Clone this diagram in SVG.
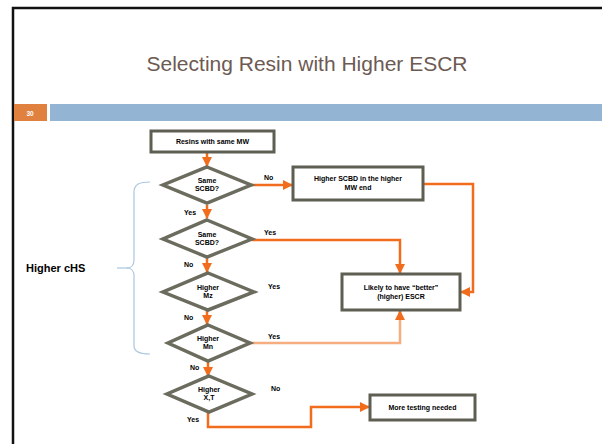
<svg xmlns="http://www.w3.org/2000/svg" width="602" height="444" viewBox="0 0 602 444">
<style>
.box{fill:#fff;stroke:#5e5e52;stroke-width:3}
.dia{fill:#fff;stroke:#6b6b5e;stroke-width:3.5}
.t{font-family:"Liberation Sans",Arial,sans-serif;font-weight:bold;font-size:7px;fill:#000;text-anchor:middle}
.lbl{font-family:"Liberation Sans",Arial,sans-serif;font-weight:bold;font-size:7px;fill:#000}
.c{fill:none;stroke:#f26c1e;stroke-width:2.5}
.cl{fill:none;stroke:#f6ad80;stroke-width:2.5}
</style>
<defs>
<marker id="ah" viewBox="0 0 10 10" refX="9" refY="5" markerWidth="4" markerHeight="4" orient="auto" markerUnits="strokeWidth">
<path d="M0,0 L10,5 L0,10 z" fill="#f26c1e"/>
</marker>
</defs>
<rect x="0" y="0" width="602" height="444" fill="#fff"/>
<path d="M13,444 L13,8 L604,8" fill="none" stroke="#111" stroke-width="2.5"/>
<text x="307" y="71" font-family="'Liberation Sans',Arial,sans-serif" font-size="21" fill="#6d5a52" text-anchor="middle">Selecting Resin with Higher ESCR</text>
<rect x="14" y="104" width="33" height="17" fill="#e0813f"/>
<text x="30" y="115.5" font-family="'Liberation Sans',Arial,sans-serif" font-size="6.5" font-weight="bold" fill="#fff" text-anchor="middle">30</text>
<rect x="50" y="104" width="552" height="17" fill="#93b4d2"/>

<g id="brace">
<path d="M150,182 C140,182 134,184 134,192 L134,260 C134,265 131,268 127,268 C131,268 134,271 134,276 L134,346 C134,352 140,354 150,354" fill="none" stroke="#a9c5df" stroke-width="1.2"/>
<path d="M117,268 L128,268" fill="none" stroke="#a9c5df" stroke-width="1.2"/>
<text x="26" y="272" font-family="'Liberation Sans',Arial,sans-serif" font-size="11" font-weight="bold" fill="#000">Higher cHS</text>
</g>

<g id="connectors">
<path class="c" d="M207,153 L207,166" marker-end="url(#ah)"/>
<path class="c" d="M251,185 L292,185" marker-end="url(#ah)"/>
<path class="c" d="M207,205 L207,218" marker-end="url(#ah)"/>
<path class="c" d="M207,258 L207,272" marker-end="url(#ah)"/>
<path class="c" d="M207,311 L207,324" marker-end="url(#ah)"/>
<path class="c" d="M208,362 L208,376" marker-end="url(#ah)"/>
<path class="c" d="M423,184 L473,184 L473,292 L461,292" marker-end="url(#ah)"/>
<path class="c" d="M252,240 L400,240 L400,273" marker-end="url(#ah)"/>
<path class="cl" d="M250,343 L400,343 L400,311"/>
<path class="c" d="M400,320 L400,311" marker-end="url(#ah)"/>
<path class="c" d="M208,413 L208,427 L311,427 L311,407 L369,407" marker-end="url(#ah)"/>
<text class="lbl" x="264" y="180">No</text>
<text class="lbl" x="184" y="215">Yes</text>
<text class="lbl" x="264" y="235">Yes</text>
<text class="lbl" x="184" y="267">No</text>
<text class="lbl" x="268" y="289">Yes</text>
<text class="lbl" x="184" y="320">No</text>
<text class="lbl" x="268" y="339">Yes</text>
<text class="lbl" x="190" y="370">No</text>
<text class="lbl" x="271" y="391">No</text>
<text class="lbl" x="187" y="422">Yes</text>
</g>

<g id="start">
<rect class="box" x="151" y="131" width="123" height="21"/>
<text class="t" x="212.5" y="144">Resins with same MW</text>
</g>
<g id="d1">
<polygon class="dia" points="207,167 251,185 207,203 163,185"/>
<text class="t" x="207" y="183">Same</text>
<text class="t" x="207" y="191">SCBD?</text>
</g>
<g id="higherscbd">
<rect class="box" x="293" y="167" width="130" height="33"/>
<text class="t" x="358" y="181">Higher SCBD in the higher</text>
<text class="t" x="358" y="190">MW end</text>
</g>
<g id="d2">
<polygon class="dia" points="207,220 252,239 207,257 163,239"/>
<text class="t" x="207" y="237">Same</text>
<text class="t" x="207" y="245">SCBD?</text>
</g>
<g id="d3">
<polygon class="dia" points="208,273 254,292 208,310 163,292"/>
<text class="t" x="208" y="290">Higher</text>
<text class="t" x="208" y="298">Mz</text>
</g>
<g id="d4">
<polygon class="dia" points="208,325 250,343 208,361 168,343"/>
<text class="t" x="208" y="341">Higher</text>
<text class="t" x="208" y="349">Mn</text>
</g>
<g id="d5">
<polygon class="dia" points="209,376 252,394 209,412 167,394"/>
<text class="t" x="209" y="392">Higher</text>
<text class="t" x="209" y="400">X,T</text>
</g>
<g id="likely">
<rect class="box" x="342" y="274" width="118" height="36"/>
<text class="t" x="401" y="290">Likely to have “better”</text>
<text class="t" x="401" y="299">(higher) ESCR</text>
</g>
<g id="moretesting">
<rect class="box" x="370" y="395" width="105" height="25"/>
<text class="t" x="422.5" y="410">More testing needed</text>
</g>
</svg>
